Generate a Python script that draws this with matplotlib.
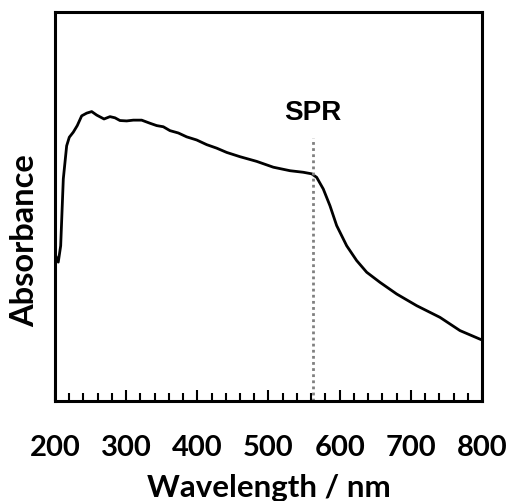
import numpy as np
import matplotlib.pyplot as plt
from matplotlib.ticker import MultipleLocator

# UV-vis spectrum (absorbance in arbitrary units)
wavelength = [200, 204.6, 208, 211.7, 216.4, 220.1, 225.7, 231.3, 237.5, 244.5,
              251.6, 258.6, 268.9, 277.3, 284.3, 291.3, 300.8, 310.0, 321.8, 333.5,
              342.9, 352.2, 361.6, 373.3, 385.1, 399.1, 413.2, 427.2, 441.3, 460.0,
              483.4, 506.8, 530.2, 548.9, 560.7, 567.7, 577.0, 586.4, 595.8, 609.9,
              623.9, 638.0, 656.7, 680.2, 708.3, 741.0, 769.1, 797.2, 800]
absorbance = [0.378, 0.357, 0.399, 0.571, 0.656, 0.678, 0.691, 0.708, 0.733, 0.740,
              0.744, 0.735, 0.725, 0.731, 0.728, 0.721, 0.720, 0.722, 0.722, 0.714,
              0.708, 0.705, 0.695, 0.689, 0.679, 0.671, 0.659, 0.650, 0.639, 0.628,
              0.616, 0.601, 0.592, 0.588, 0.584, 0.575, 0.545, 0.502, 0.451, 0.399,
              0.361, 0.331, 0.305, 0.275, 0.245, 0.215, 0.181, 0.159, 0.157]
spr_position = 562
spr_label = 'SPR'

fig = plt.figure(figsize=(5.11, 5.02), dpi=100)
ax = fig.add_axes([0.1076, 0.1992, 0.8356, 0.7749])

ax.plot(wavelength, absorbance, color='black', lw=2)
ax.vlines(spr_position, 0, 0.675, colors='#808080', lw=2, linestyles=(0, (1, 1.2)))
ax.text(spr_position, 0.742, spr_label, ha='center', va='center',
        fontsize=20, fontweight='bold', family='Liberation Sans')

ax.set_xlim(200, 800)
ax.set_ylim(0, 1)
ax.xaxis.set_major_locator(MultipleLocator(100))
ax.xaxis.set_minor_locator(MultipleLocator(20))
ax.tick_params(axis='x', which='major', direction='in', length=8, width=1.5, pad=24)
ax.tick_params(axis='x', which='minor', direction='in', length=5.5, width=1.5)
ax.set_yticks([])
for s in ax.spines.values():
    s.set_linewidth(2.2)

for lab in ax.get_xticklabels():
    lab.set_fontsize(21)
    lab.set_fontweight('bold')
    lab.set_family('Lato')

ax.set_xlabel('Wavelength / nm', fontsize=22.5, fontweight='bold', family='Lato')
ax.set_ylabel('Absorbance', fontsize=23.5, fontweight='bold', family='Lato')
ax.xaxis.set_label_coords(0.5, -0.185)
ax.yaxis.set_label_coords(-0.0375, 0.415)

fig.savefig('out.png', dpi=100)
